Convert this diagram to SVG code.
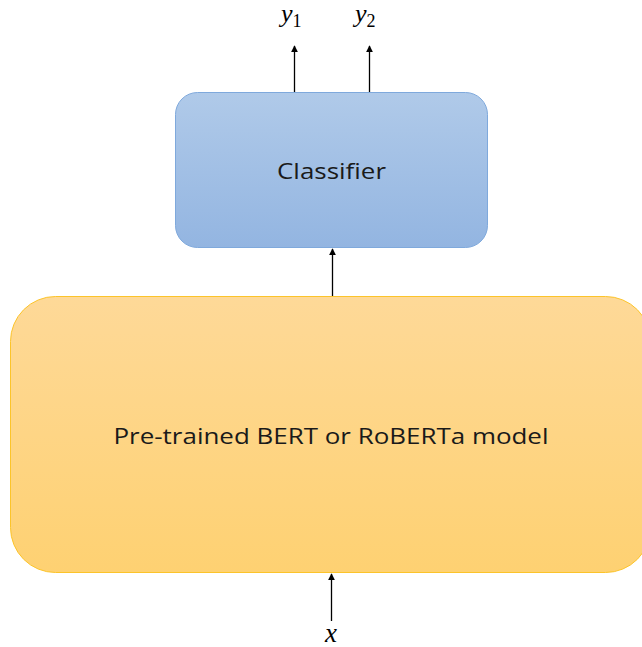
<svg xmlns="http://www.w3.org/2000/svg" width="642" height="647" viewBox="0 0 642 647">
  <style>
    .label { font-family: "Open Sans", "Noto Sans", "Liberation Sans", sans-serif; fill: #1a1a1a; text-anchor: middle; }
    .math { font-family: "Liberation Serif", "DejaVu Serif", serif; font-style: italic; fill: #000; }
    .sub { font-family: "Liberation Serif", "DejaVu Serif", serif; font-style: normal; }
    .edge { stroke: #000; stroke-width: 1.3; fill: none; marker-end: url(#arrow); }
  </style>
  <defs>
    <linearGradient id="blueFill" x1="0" y1="0" x2="0" y2="1">
      <stop offset="0" stop-color="#b0cae9"/>
      <stop offset="1" stop-color="#93b5e1"/>
    </linearGradient>
    <linearGradient id="yellowFill" x1="0" y1="0" x2="0" y2="1">
      <stop offset="0" stop-color="#fed998"/>
      <stop offset="1" stop-color="#fed172"/>
    </linearGradient>
    <marker id="arrow" viewBox="0 0 10 10" refX="9" refY="5" markerWidth="7" markerHeight="9" markerUnits="userSpaceOnUse" orient="auto">
      <path d="M0,0 L10,5 L0,10 z" fill="#000"/>
    </marker>
  </defs>

  <g id="classifier">
    <rect x="175.5" y="92.5" width="312" height="155" rx="22" ry="22" fill="url(#blueFill)" stroke="#7fa9dc" stroke-width="1"/>
    <text class="label" x="331.5" y="179" font-size="22.5" textLength="109" lengthAdjust="spacingAndGlyphs">Classifier</text>
  </g>

  <g id="encoder">
    <rect x="10.5" y="296.5" width="640" height="276" rx="45" ry="45" fill="url(#yellowFill)" stroke="#fcc42a" stroke-width="1"/>
    <text class="label" x="331" y="444" font-size="22.5" textLength="435" lengthAdjust="spacingAndGlyphs">Pre-trained BERT or RoBERTa model</text>
  </g>

  <g id="output-y1">
    <text class="math" x="281" y="22" font-size="26">y<tspan class="sub" font-size="18" dy="5">1</tspan></text>
  </g>
  <g id="output-y2">
    <text class="math" x="355" y="22" font-size="26">y<tspan class="sub" font-size="18" dy="5">2</tspan></text>
  </g>
  <g id="input-x">
    <text class="math" x="325" y="642" font-size="27">x</text>
  </g>

  <g id="connectors">
    <line class="edge" x1="294.5" y1="92" x2="294.5" y2="46"/>
    <line class="edge" x1="369.5" y1="92" x2="369.5" y2="46"/>
    <line class="edge" x1="332.5" y1="296" x2="332.5" y2="249"/>
    <line class="edge" x1="331.5" y1="621" x2="331.5" y2="574"/>
  </g>
</svg>
